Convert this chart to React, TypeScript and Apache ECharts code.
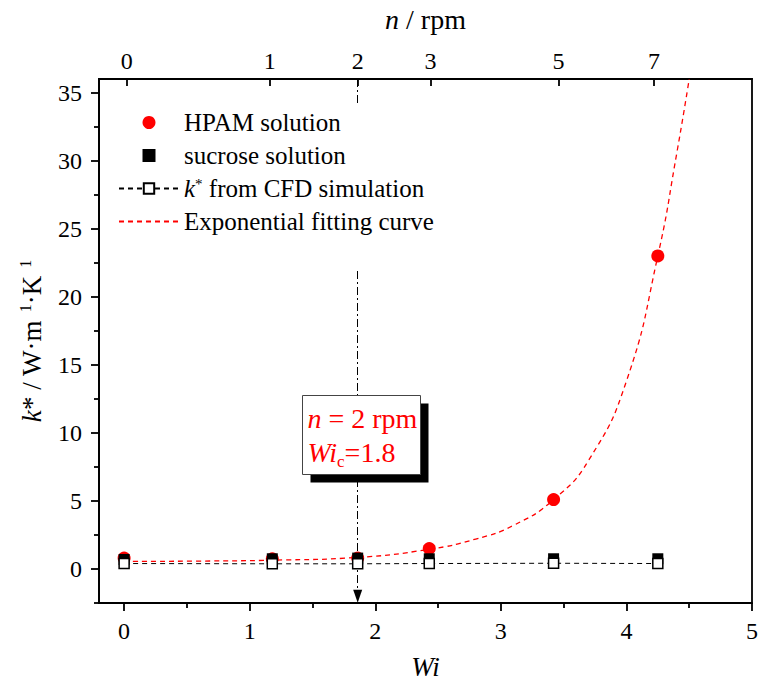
import React, { useEffect, useRef } from "react";
import * as echarts from "echarts";

// ---- data ----
const wi = [0, 1.18, 1.86, 2.43, 3.42, 4.25];
const hpam = [0.8, 0.75, 0.8, 1.5, 5.1, 23.0];
const sucrose = [0.7, 0.75, 0.8, 0.75, 0.75, 0.75];
const cfd = [0.4, 0.38, 0.38, 0.4, 0.42, 0.4];
const fitWi = [0, 0.6, 1.2, 1.86, 2.43, 2.8, 3.1, 3.42, 3.7, 4.0, 4.25, 4.4, 4.5];
const fitK = [0.55, 0.58, 0.65, 0.85, 1.45, 2.2, 3.2, 5.1, 8.0, 13.8, 23.0, 30.5, 36.0];
const xMajor = [0, 1, 2, 3, 4, 5];
const xMinor = [0.5, 1.5, 2.5, 3.5, 4.5];
const yMajor = [0, 5, 10, 15, 20, 25, 30, 35];
const yMinor = [-2.5, 2.5, 7.5, 12.5, 17.5, 22.5, 27.5, 32.5];
const topPos = [0.02, 1.16, 1.86, 2.44, 3.46, 4.22];
const topLabels = ["0", "1", "2", "3", "5", "7"];
const criticalWi = 1.86;

const FONT = "Liberation Serif";
const NAMES = {
  hpam: "HPAM solution",
  suc: "sucrose solution",
  cfd: "k* from CFD simulation",
  fit: "Exponential fitting curve",
};

const zip = (a: number[], b: number[]) => a.map((v, i) => [v, b[i]]);

export default function App() {
  const ref = useRef<HTMLDivElement>(null);
  useEffect(() => {
    document.body.style.margin = "0";
    if (!ref.current) return;
    const chart = echarts.init(ref.current, null, { renderer: "svg" });
    const axisLineStyle = { color: "#000", width: 1.8 };
    const baseX = { type: "value", min: -0.2, max: 5, splitLine: { show: false } };
    const baseY = { type: "value", min: -2.5, max: 36, splitLine: { show: false } };
    chart.setOption({
      animation: false,
      backgroundColor: "#fff",
      textStyle: { fontFamily: FONT },
      grid: {
        left: 99,
        right: 4,
        top: 72,
        bottom: 85,
        show: true,
        borderColor: "#000",
        borderWidth: 1.8,
      },
      legend: {
        left: 113,
        top: 104,
        z: 20,
        orient: "vertical",
        padding: [6, 5, 36, 5],
        backgroundColor: "#fff",
        itemWidth: 60,
        itemHeight: 13,
        itemGap: 8,
        selectedMode: false,
        data: [
          { name: NAMES.hpam, icon: "circle" },
          { name: NAMES.suc, icon: "path://M0,0L10,0L10,10L0,10Z" },
          { name: NAMES.cfd },
          { name: NAMES.fit, itemStyle: { opacity: 0, color: "rgba(0,0,0,0)", borderWidth: 0 } },
        ],
        formatter: (name: string) =>
          name === NAMES.cfd ? "{i|k}{s|*}{t| from CFD simulation}" : name,
        textStyle: {
          fontFamily: FONT,
          fontSize: 25,
          color: "#000",
          lineHeight: 24,
          rich: {
            i: { fontFamily: FONT, fontSize: 25, fontStyle: "italic", color: "#000", lineHeight: 24 },
            s: { fontFamily: FONT, fontSize: 15, color: "#000", verticalAlign: "top", lineHeight: 12 },
            t: { fontFamily: FONT, fontSize: 25, color: "#000", lineHeight: 24 },
          },
        },
      },
      xAxis: [
        {
          ...baseX,
          position: "bottom",
          axisLine: { show: true, onZero: false, lineStyle: axisLineStyle },
          axisTick: { show: true, customValues: xMajor, length: 8, lineStyle: axisLineStyle },
          axisLabel: { customValues: xMajor, fontSize: 24, color: "#000", fontFamily: FONT, margin: 16 },
          name: "Wi",
          nameLocation: "middle",
          nameGap: 50,
          nameTextStyle: { fontFamily: FONT, fontSize: 27, fontStyle: "italic", color: "#000" },
        },
        {
          ...baseX,
          position: "bottom",
          axisLine: { show: false, onZero: false },
          axisTick: { show: true, customValues: xMinor, length: 5, lineStyle: axisLineStyle },
          axisLabel: { show: false },
        },
        {
          ...baseX,
          position: "top",
          axisLine: { show: true, onZero: false, lineStyle: axisLineStyle },
          axisTick: { show: true, customValues: topPos, inside: true, length: 7, lineStyle: axisLineStyle },
          axisLabel: {
            customValues: topPos,
            fontSize: 24,
            color: "#000",
            fontFamily: FONT,
            margin: 6,
            formatter: (v: number) => {
              const i = topPos.findIndex((p) => Math.abs(p - v) < 1e-6);
              return i >= 0 ? topLabels[i] : "";
            },
          },
          name: "{i|n}{r| / rpm}",
          nameLocation: "middle",
          nameGap: 46,
          nameTextStyle: {
            rich: {
              i: { fontFamily: FONT, fontSize: 28, fontStyle: "italic", color: "#000" },
              r: { fontFamily: FONT, fontSize: 28, color: "#000" },
            },
          },
        },
      ],
      yAxis: [
        {
          ...baseY,
          position: "left",
          axisLine: { show: true, onZero: false, lineStyle: axisLineStyle },
          axisTick: { show: true, customValues: yMajor, length: 8, lineStyle: axisLineStyle },
          axisLabel: { customValues: yMajor, fontSize: 24, color: "#000", fontFamily: FONT, margin: 17 },
          name: "{i|k}{r|* / W·m}{s|  1}{r|·K}{s|  1}",
          nameLocation: "middle",
          nameGap: 48,
          nameRotate: 90,
          nameTextStyle: {
            rich: {
              i: { fontFamily: FONT, fontSize: 27, fontStyle: "italic", color: "#000", lineHeight: 28 },
              r: { fontFamily: FONT, fontSize: 27, color: "#000", lineHeight: 28 },
              s: { fontFamily: FONT, fontSize: 16, color: "#000", lineHeight: 12, padding: [0, 0, 14, 0] },
            },
          },
        },
        {
          ...baseY,
          position: "left",
          axisLine: { show: false, onZero: false },
          axisTick: { show: true, customValues: yMinor, length: 5, lineStyle: axisLineStyle },
          axisLabel: { show: false },
        },
      ],
      series: [
        {
          name: NAMES.hpam,
          type: "scatter",
          xAxisIndex: 0,
          yAxisIndex: 0,
          symbol: "circle",
          symbolSize: 13,
          itemStyle: { color: "#ff0000", opacity: 1 },
          data: zip(wi, hpam),
          z: 2,
        },
        {
          name: NAMES.fit,
          type: "line",
          xAxisIndex: 0,
          yAxisIndex: 0,
          smooth: true,
          symbol: "none",
          lineStyle: { color: "#ff0000", width: 1.3, type: [5, 4] },
          itemStyle: { color: "#ff0000" },
          data: zip(fitWi, fitK),
          z: 3,
        },
        {
          name: NAMES.suc,
          type: "scatter",
          xAxisIndex: 0,
          yAxisIndex: 0,
          symbol: "rect",
          symbolSize: 11,
          itemStyle: { color: "#000", opacity: 1 },
          data: zip(wi, sucrose),
          z: 4,
        },
        {
          name: NAMES.cfd,
          type: "line",
          xAxisIndex: 0,
          yAxisIndex: 0,
          symbol: "rect",
          symbolSize: 10,
          showAllSymbol: true,
          itemStyle: { color: "#fff", borderColor: "#000", borderWidth: 1.5 },
          lineStyle: { color: "#000", width: 1, type: [5, 4] },
          data: zip(wi, cfd),
          z: 5,
          markLine: {
            silent: true,
            symbol: ["none", "triangle"],
            symbolSize: [9, 13],
            label: { show: false },
            lineStyle: { color: "#000", width: 1, type: [8, 3, 2, 3] },
            data: [[{ coord: [criticalWi, 36] }, { coord: [criticalWi, -2.0] }]],
          },
        },
      ],
      graphic: [
        {
          type: "group",
          left: 302,
          top: 395,
          z: 100,
          children: [
            { type: "rect", shape: { x: 8, y: 8, width: 118, height: 79 }, style: { fill: "#000" }, z: 100 },
            {
              type: "rect",
              shape: { x: 0, y: 0, width: 118, height: 79 },
              style: { fill: "#fff", stroke: "#444", lineWidth: 1 },
              z: 101,
            },
            {
              type: "text",
              x: 5,
              y: 6,
              z: 102,
              style: {
                text: "{i|n}{r| = 2 rpm}\n{i|Wi}{sub|c}{r|=1.8}",
                fill: "#ff0000",
                fontFamily: FONT,
                fontSize: 28,
                lineHeight: 34,
                rich: {
                  i: { fontFamily: FONT, fontSize: 28, fontStyle: "italic", fill: "#ff0000", lineHeight: 34 },
                  r: { fontFamily: FONT, fontSize: 28, fill: "#ff0000", lineHeight: 34 },
                  sub: { fontFamily: FONT, fontSize: 17, fill: "#ff0000", lineHeight: 12, padding: [18, 0, 0, 0] },
                },
              },
            },
          ],
        },
      ],
    });
    return () => chart.dispose();
  }, []);
  return <div ref={ref} style={{ width: 761, height: 688 }} />;
}
